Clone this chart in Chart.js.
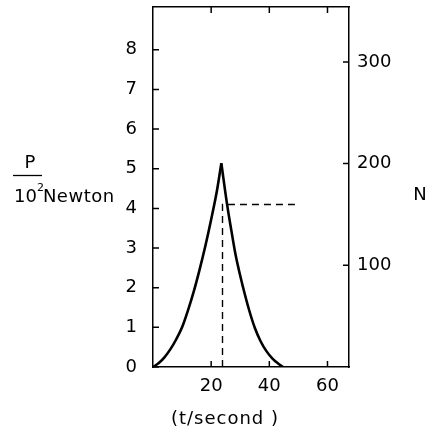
<!DOCTYPE html>
<html>
<head>
<meta charset="utf-8">
<script src="https://cdn.jsdelivr.net/npm/chart.js@4.4.1/dist/chart.umd.min.js"></script>
<style>
  html, body { margin: 0; padding: 0; background: #fff; }
  #wrap { width: 433px; height: 435px; position: relative; }
</style>
</head>
<body>
<div id="wrap"><canvas id="forceChart" width="433" height="435"></canvas></div>
<script>
// Force P (in 10^2 Newton) against time t (seconds), rising and falling branches
const riseT = [0, 2, 4, 6, 8, 10, 12, 14, 16, 18, 20, 22, 23.5];
const riseP = [0, 0.1, 0.25, 0.45, 0.7, 1.0, 1.42, 1.9, 2.45, 3.05, 3.72, 4.45, 5.14];
const fallT = [23.5, 25.5, 27, 28.4, 30, 31, 33, 35, 37, 39, 41, 43, 44.7];
const fallP = [5.14, 4.09, 3.42, 2.83, 2.3, 2.0, 1.45, 0.99, 0.65, 0.4, 0.22, 0.09, 0];

// dashed reading lines
const guideT = [23.9, 23.9, 48.8];
const guideP = [0, 4.1, 4.1];

// axis ticks
const tTicks = [20, 40, 60];
const pTicks = [0, 1, 2, 3, 4, 5, 6, 7, 8];
const nTicks = [100, 200, 300];

const tMax = 67.4;
const pMax = 9.08;
const nMax = 354;

const font = { family: 'DejaVu Sans', size: 18 };

const toPoints = (xs, ys) => xs.map((x, i) => ({ x: x, y: ys[i] }));
const noPad = s => { s.paddingTop = 0; s.paddingBottom = 0; };

// tick marks drawn on the inside of the frame
const innerTicks = {
    id: 'innerTicks',
    afterDatasetsDraw(chart) {
        const ctx = chart.ctx;
        const area = chart.chartArea;
        const len = 6;
        ctx.save();
        ctx.strokeStyle = '#000';
        ctx.lineWidth = 1.5;
        ctx.beginPath();
        tTicks.forEach(v => {
            const x = chart.scales.x.getPixelForValue(v);
            ctx.moveTo(x, area.bottom); ctx.lineTo(x, area.bottom - len);
            ctx.moveTo(x, area.top); ctx.lineTo(x, area.top + len);
        });
        pTicks.forEach(v => {
            const y = chart.scales.y.getPixelForValue(v);
            ctx.moveTo(area.left, y); ctx.lineTo(area.left + len, y);
        });
        nTicks.forEach(v => {
            const y = chart.scales.yN.getPixelForValue(v);
            ctx.moveTo(area.right, y); ctx.lineTo(area.right - len, y);
        });
        ctx.stroke();
        ctx.restore();
    }
};

// axis titles: fraction on the left, N on the right, t below
const axisTitles = {
    id: 'axisTitles',
    afterDraw(chart) {
        const ctx = chart.ctx;
        ctx.save();
        ctx.fillStyle = '#000';
        ctx.strokeStyle = '#000';
        ctx.font = '18px "DejaVu Sans"';
        ctx.textBaseline = 'alphabetic';

        ctx.textAlign = 'center';
        ctx.fillText('P', 30, 168);
        ctx.lineWidth = 1.3;
        ctx.beginPath();
        ctx.moveTo(13, 175.5); ctx.lineTo(42, 175.5);
        ctx.stroke();

        ctx.textAlign = 'left';
        ctx.fillText('10', 14, 202);
        const w10 = ctx.measureText('10').width;
        ctx.font = '11px "DejaVu Sans"';
        ctx.fillText('2', 14 + w10, 191);
        ctx.font = '18px "DejaVu Sans"';
        ctx.letterSpacing = '0.5px';
        ctx.fillText('Newton', 14 + w10 + 6, 202);

        ctx.textAlign = 'center';
        ctx.letterSpacing = '0px';
        ctx.fillText('N', 420, 200);
        ctx.letterSpacing = '1px';
        ctx.fillText('(t/second )', 225, 424);
        ctx.restore();
    }
};

const lineStyle = {
    borderColor: '#000',
    borderWidth: 2.6,
    pointRadius: 0,
    cubicInterpolationMode: 'monotone',
    fill: false
};

const ctx = document.getElementById('forceChart').getContext('2d');
new Chart(ctx, {
    type: 'line',
    data: {
        datasets: [
            Object.assign({ label: 'rise', data: toPoints(riseT, riseP) }, lineStyle),
            Object.assign({ label: 'fall', data: toPoints(fallT, fallP) }, lineStyle),
            {
                label: 'reading',
                data: toPoints(guideT, guideP),
                borderColor: '#000',
                borderWidth: 1.4,
                borderDash: [7, 5],
                pointRadius: 0,
                tension: 0,
                fill: false
            }
        ]
    },
    options: {
        responsive: false,
        animation: false,
        devicePixelRatio: 1,
        layout: { padding: 0 },
        plugins: {
            legend: { display: false },
            tooltip: { enabled: false }
        },
        scales: {
            x: {
                type: 'linear',
                position: 'bottom',
                min: 0,
                max: tMax,
                afterBuildTicks: s => { s.ticks = tTicks.map(v => ({ value: v })); },
                afterFit: s => { s.height = 68; },
                ticks: { color: '#000', font: font, padding: 9, maxRotation: 0, autoSkip: false },
                grid: { drawOnChartArea: false, drawTicks: false },
                border: { display: true, color: '#000', width: 1.5 }
            },
            xTop: {
                type: 'linear',
                position: 'top',
                min: 0,
                max: tMax,
                afterFit: s => { s.height = 7; },
                ticks: { display: false },
                grid: { drawOnChartArea: false, drawTicks: false },
                border: { display: true, color: '#000', width: 1.5 }
            },
            y: {
                type: 'linear',
                position: 'left',
                min: 0,
                max: pMax,
                afterBuildTicks: s => { s.ticks = pTicks.map(v => ({ value: v })); },
                afterFit: s => { s.width = 153; noPad(s); },
                ticks: { color: '#000', font: font, padding: 16, autoSkip: false },
                grid: { drawOnChartArea: false, drawTicks: false },
                border: { display: true, color: '#000', width: 1.5 }
            },
            yN: {
                type: 'linear',
                position: 'right',
                min: 0,
                max: nMax,
                afterBuildTicks: s => { s.ticks = nTicks.map(v => ({ value: v })); },
                afterFit: s => { s.width = 84; noPad(s); },
                ticks: { color: '#000', font: font, padding: 8, autoSkip: false },
                grid: { drawOnChartArea: false, drawTicks: false },
                border: { display: true, color: '#000', width: 1.5 }
            }
        }
    },
    plugins: [innerTicks, axisTitles]
});
</script>
</body>
</html>
